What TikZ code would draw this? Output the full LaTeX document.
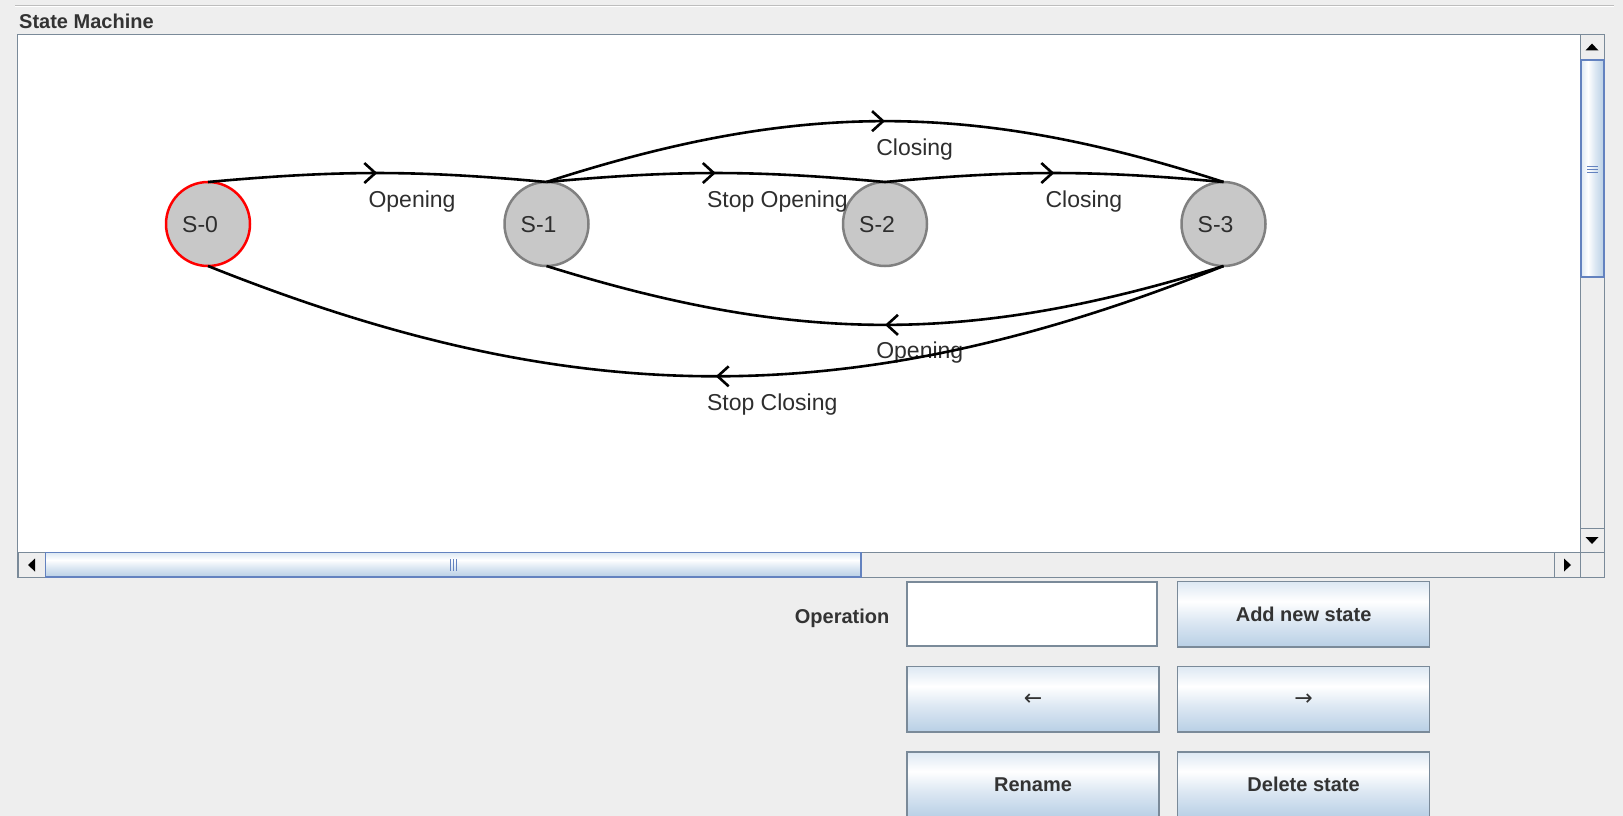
\documentclass[tikz,border=0pt]{standalone}
\usepackage{fontspec}
\setmainfont{Liberation Sans}
\newfontfamily\arrowfont{DejaVu Sans}
\usepackage{tikz}
\usetikzlibrary{arrows.meta}
\usetikzlibrary{decorations.markings}

\definecolor{panelbg}{HTML}{EEEEEE}
\definecolor{framegray}{HTML}{7A8A99}
\definecolor{etchgray}{HTML}{BDBDBD}
\definecolor{statefill}{HTML}{C8C8C8}
\definecolor{stateline}{HTML}{808080}
\definecolor{thumbblue}{HTML}{6382BF}
\definecolor{btnhigh}{HTML}{DDE8F3}
\definecolor{btnlow}{HTML}{B8CFE5}
\definecolor{uitext}{HTML}{333333}
\definecolor{graphtext}{HTML}{2E2E2E}

\newcommand{\uifont}{\fontsize{20}{24}\selectfont\bfseries}
\newcommand{\graphfont}{\fontsize{23}{27}\selectfont}

% light top, white band, blue bottom
\pgfdeclareverticalshading{ocean}{100bp}{color(0bp)=(btnlow); color(25bp)=(btnlow); color(45bp)=(btnhigh); color(60bp)=(white); color(75bp)=(btnhigh); color(100bp)=(btnhigh)}

\begin{document}
\begin{tikzpicture}[x=1pt, y=1pt,
  state/.style={circle, draw=stateline, fill=statefill, line width=2.5pt, minimum size=84pt, inner sep=0pt, outer sep=0pt},
  statename/.style={anchor=base west, inner sep=0pt, font=\graphfont, text=graphtext},
  trans/.style={line width=2.6pt, postaction=decorate, decoration={markings, mark=at position 0.5 with {\arrow{Straight Barb[length=11pt, width=20pt]}}}},
  translabel/.style={midway, anchor=base west, inner sep=0pt, xshift=-10pt, yshift=-34pt, font=\graphfont, text=graphtext},
  uibutton/.style={draw=framegray, line width=1.5pt, shade, shading=ocean, minimum width=252pt, minimum height=65.5pt, inner sep=0pt, font=\uifont, text=uitext},
  arrowbutton/.style={uibutton, font=\arrowfont\fontsize{22}{26}\selectfont},
  field/.style={draw=framegray, line width=1.5pt, fill=white, minimum width=250pt, minimum height=64pt, inner sep=0pt},
  scrollbtn/.style={draw=framegray, line width=1pt, fill=panelbg},
  thumb/.style={draw=thumbblue, line width=1.2pt, shade, shading=ocean},
]
  \useasboundingbox (0,0) rectangle (1623,-816);
  \clip (0,0) rectangle (1623,-816);
  \fill[panelbg] (0,0) rectangle (1623,-816);

  % titled border
  \draw[etchgray, line width=1pt] (15,-6) -- (1614,-6);
  \draw[white, line width=1pt] (15,-7) -- (1614,-7);
  \node[anchor=base west, inner sep=0pt, font=\uifont, text=uitext] (title) at (19,-29) {State Machine};

  % scroll pane
  \fill[white] (18,-35) rectangle (1580,-552);
  \draw[framegray, line width=1.2pt] (17.5,-34.5) rectangle (1604.5,-577.5);

  % vertical scrollbar
  \draw[scrollbtn] (1580.5,-35) rectangle (1604,-60);
  \fill (1592,-43.5) -- (1598.5,-50.5) -- (1585.5,-50.5) -- cycle;
  \draw[thumb, shading angle=90] (1581,-60) rectangle (1604,-277);
  \foreach \y in {166,169,172}
    \draw[thumbblue, line width=1pt] (1587,-\y) -- (1598,-\y);
  \draw[framegray, line width=1pt] (1580.5,-277) -- (1580.5,-528);
  \draw[scrollbtn] (1580.5,-528) rectangle (1604,-552);
  \fill (1592,-544) -- (1598.5,-537) -- (1585.5,-537) -- cycle;

  % horizontal scrollbar
  \draw[framegray, line width=1pt] (18,-552.5) -- (1604,-552.5);
  \draw[scrollbtn] (18,-552.5) rectangle (45.5,-577);
  \fill (28,-565) -- (35,-558.5) -- (35,-571.5) -- cycle;
  \draw[thumb] (45.5,-552.5) rectangle (861,-577);
  \foreach \x in {450.5,453.5,456.5}
    \draw[thumbblue, line width=1pt] (\x,-559) -- (\x,-571);
  \draw[scrollbtn] (1554,-552.5) rectangle (1580.5,-577);
  \fill (1571,-565) -- (1564,-558.5) -- (1564,-571.5) -- cycle;

  % states
  \foreach \i/\x/\c in {0/208/red, 1/546.5/stateline, 2/885/stateline, 3/1223.5/stateline} {
    \node[state, draw=\c] (s\i) at (\x,-224) {};
    \node[statename] (n\i) at ([xshift=-26pt, yshift=-8pt]s\i.center) {S-\i};
  }

  % transitions
  \draw[trans] (s0.north) to[bend left=5.2] node[translabel] {Opening} (s1.north);
  \draw[trans] (s1.north) to[bend left=5.2] node[translabel] {Stop Opening} (s2.north);
  \draw[trans] (s2.north) to[bend left=5.2] node[translabel] {Closing} (s3.north);
  \draw[trans] (s1.north) to[bend left=17.9] node[translabel] {Closing} (s3.north);
  \draw[trans] (s3.south) to[bend left=17.3] node[translabel] {Opening} (s1.south);
  \draw[trans] (s3.south) to[bend left=21.8] node[translabel] {Stop Closing} (s0.south);

  % controls
  \node[anchor=base east, inner sep=0pt, font=\uifont, text=uitext] (oplabel) at (889.5,-623) {Operation};
  \node[field] (op) at (1032,-613.8) {};
  \node[uibutton] (add) at (1303.6,-614.4) {Add new state};
  \node[arrowbutton] (prev) at (1033,-699.3) {←};
  \node[arrowbutton] (next) at (1303.6,-699.3) {→};
  \node[uibutton] (rename) at (1033,-784.5) {Rename};
  \node[uibutton] (delete) at (1303.6,-784.5) {Delete state};
\end{tikzpicture}
\end{document}
